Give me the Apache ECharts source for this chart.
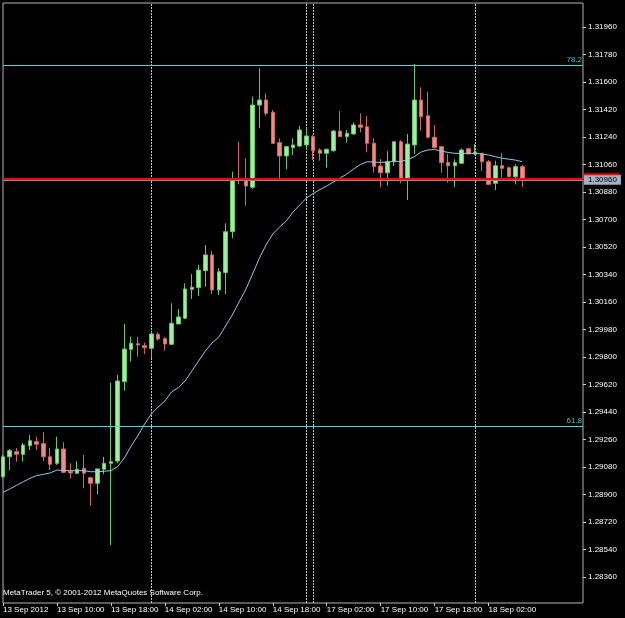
<!DOCTYPE html>
<html>
<head>
<meta charset="utf-8">
<script src="https://cdn.jsdelivr.net/npm/echarts@6/dist/echarts.min.js"></script>
<style>
  html, body { margin: 0; padding: 0; background: #000; }
  #main { width: 625px; height: 618px; }
</style>
</head>
<body>
<div id="main"></div>
<script>
// EURUSD H1, 13 Sep 2012 02:00 - 18 Sep 2012 07:00
const days = [['13 Sep', 2, 23], ['14 Sep', 0, 22], ['16 Sep', 23, 23], ['17 Sep', 0, 23], ['18 Sep', 0, 7]];
const firstLabel = '13 Sep 2012';

const opens = [
  1.29016, 1.29147, 1.29180, 1.29163, 1.29219, 1.29246, 1.29233, 1.29147, 1.29104, 1.29198,
  1.29052, 1.29039, 1.29071, 1.29010, 1.28973, 1.29065, 1.29104, 1.29119, 1.29638, 1.29850,
  1.29887, 1.29874, 1.29857, 1.29949, 1.29920, 1.29883, 1.30016, 1.30053, 1.30243, 1.30254,
  1.30365, 1.30468, 1.30239, 1.30352, 1.30620, 1.30960, 1.30959, 1.30911, 1.31449, 1.31482,
  1.31402, 1.31203, 1.31116, 1.31170, 1.31181, 1.31188, 1.31242, 1.31155, 1.31133, 1.31150,
  1.31279, 1.31242, 1.31260, 1.31319, 1.31307, 1.31199, 1.31050, 1.31006, 1.31078, 1.31209,
  1.30970, 1.31188, 1.31482, 1.31379, 1.31238, 1.31177, 1.31074, 1.31052, 1.31068, 1.31163,
  1.31129, 1.31133, 1.31078, 1.30937, 1.31052, 1.31039, 1.30980, 1.31046
];
const closes = [
  1.29147, 1.29187, 1.29163, 1.29224, 1.29252, 1.29229, 1.29147, 1.29098, 1.29198, 1.29045,
  1.29041, 1.29065, 1.29039, 1.28973, 1.29067, 1.29104, 1.29115, 1.29643, 1.29852, 1.29890,
  1.29879, 1.29861, 1.29951, 1.29918, 1.29885, 1.30021, 1.30062, 1.30245, 1.30256, 1.30369,
  1.30468, 1.30239, 1.30358, 1.30620, 1.30959, 1.30957, 1.30919, 1.31449, 1.31482, 1.31395,
  1.31199, 1.31116, 1.31177, 1.31188, 1.31286, 1.31247, 1.31150, 1.31133, 1.31160, 1.31279,
  1.31242, 1.31264, 1.31319, 1.31304, 1.31199, 1.31046, 1.31006, 1.31078, 1.31209, 1.30970,
  1.31194, 1.31482, 1.31373, 1.31238, 1.31170, 1.31072, 1.31052, 1.31072, 1.31155, 1.31129,
  1.31140, 1.31078, 1.30930, 1.31052, 1.31035, 1.30980, 1.31046, 1.30960
];
const lows = [
  1.29008, 1.29060, 1.29115, 1.29115, 1.29191, 1.29191, 1.29119, 1.29060, 1.29093, 1.29039,
  1.29006, 1.29034, 1.28941, 1.28827, 1.28901, 1.29032, 1.28569, 1.29104, 1.29579, 1.29769,
  1.29802, 1.29820, 1.29792, 1.29907, 1.29841, 1.29879, 1.30016, 1.30049, 1.30180, 1.30199,
  1.30260, 1.30210, 1.30206, 1.30212, 1.30577, 1.30930, 1.30790, 1.30900, 1.31297, 1.31379,
  1.31194, 1.30970, 1.31029, 1.31122, 1.31173, 1.31155, 1.31089, 1.31085, 1.31039, 1.31144,
  1.31242, 1.31203, 1.31253, 1.31271, 1.31140, 1.31006, 1.30911, 1.30921, 1.31050, 1.30937,
  1.30828, 1.31129, 1.31281, 1.31231, 1.31166, 1.31006, 1.30941, 1.30911, 1.31063, 1.31129,
  1.31122, 1.31017, 1.30926, 1.30893, 1.30974, 1.30976, 1.30930, 1.30911
];
const highs = [
  1.29159, 1.29198, 1.29204, 1.29237, 1.29291, 1.29278, 1.29307, 1.29206, 1.29278, 1.29242,
  1.29104, 1.29119, 1.29159, 1.29016, 1.29071, 1.29147, 1.29632, 1.29682, 1.30016, 1.29933,
  1.29933, 1.29894, 1.29966, 1.29962, 1.29929, 1.30151, 1.30114, 1.30282, 1.30343, 1.30402,
  1.30533, 1.30496, 1.30381, 1.30675, 1.31013, 1.31209, 1.31101, 1.31504, 1.31690, 1.31526,
  1.31417, 1.31231, 1.31183, 1.31231, 1.31312, 1.31297, 1.31253, 1.31166, 1.31161, 1.31286,
  1.31410, 1.31286, 1.31336, 1.31395, 1.31377, 1.31231, 1.31096, 1.31148, 1.31212, 1.31220,
  1.31260, 1.31718, 1.31565, 1.31537, 1.31319, 1.31181, 1.31129, 1.31094, 1.31166, 1.31170,
  1.31194, 1.31137, 1.31089, 1.31085, 1.31137, 1.31046, 1.31061, 1.31057
];
// moving average
const maValues = [
  1.28913, 1.28936, 1.28960, 1.28983, 1.29006, 1.29024, 1.29032, 1.29041, 1.29060, 1.29058,
  1.29056, 1.29056, 1.29056, 1.29049, 1.29049, 1.29052, 1.29056, 1.29082, 1.29139, 1.29217,
  1.29285, 1.29362, 1.29427, 1.29473, 1.29512, 1.29571, 1.29600, 1.29643, 1.29708, 1.29774,
  1.29839, 1.29892, 1.29931, 1.30003, 1.30075, 1.30160, 1.30242, 1.30343, 1.30445, 1.30533,
  1.30605, 1.30651, 1.30690, 1.30749, 1.30795, 1.30841, 1.30870, 1.30896, 1.30919, 1.30946,
  1.30972, 1.30998, 1.31031, 1.31060, 1.31078, 1.31076, 1.31074, 1.31076, 1.31081, 1.31080,
  1.31091, 1.31112, 1.31142, 1.31155, 1.31158, 1.31148, 1.31139, 1.31133, 1.31133, 1.31133,
  1.31133, 1.31129, 1.31122, 1.31111, 1.31101, 1.31095, 1.31089, 1.31078
];
const priceTicks = [
  1.28360, 1.28540, 1.28720, 1.28900, 1.29080, 1.29260, 1.29440, 1.29620, 1.29800, 1.29980,
  1.30160, 1.30340, 1.30520, 1.30700, 1.30880, 1.31060, 1.31240, 1.31420, 1.31600, 1.31780, 1.31960
];
const fibLevels = [[1.31711, '78.2'], [1.29348, '61.8']];
const redLevel = 1.30970;
const bidLevel = 1.30960;
const separatorIdx = [22, 45, 46, 70];
const emptyBars = 9;

let categories = [];
days.forEach(d => {
  for (let h = d[1]; h <= d[2]; h++) {
    categories.push(d[0] + ' ' + (h < 10 ? '0' : '') + h + ':00');
  }
});
const nBars = categories.length;
let axisCats = categories.slice();
for (let i = 0; i < emptyBars; i++) axisCats.push('');

const candles = opens.map((o, i) => [o, closes[i], lows[i], highs[i]]);
const showIdx = (i) => i % 8 === 0 && i < nBars;

let myChart = echarts.init(document.getElementById('main'), null, {renderer: 'canvas'});
const font = 'Liberation Sans';
var option = {
  backgroundColor: '#000',
  animation: false,
  title: {
    text: 'MetaTrader 5, © 2001-2012 MetaQuotes Software Corp.',
    left: 3, top: 589, padding: 0,
    textStyle: {color: '#ffffff', fontSize: 8, fontWeight: 'normal', fontFamily: font}
  },
  grid: {
    left: 2, right: 42, top: 3, bottom: 15,
    show: true, borderColor: '#b4b4b4', borderWidth: 1
  },
  xAxis: {
    type: 'category',
    data: axisCats,
    boundaryGap: false,
    axisLine: {show: false},
    axisTick: {show: true, interval: showIdx, length: 3, lineStyle: {color: '#d0d0d0'}},
    axisLabel: {
      interval: showIdx,
      align: 'left',
      margin: 3,
      color: '#ffffff',
      fontSize: 8,
      fontFamily: font,
      formatter: (v, i) => i === 0 ? firstLabel : v
    },
    splitLine: {show: false}
  },
  yAxis: {
    type: 'value',
    position: 'right',
    min: 1.281898,
    max: 1.321171,
    axisLine: {show: false},
    axisTick: {show: true, length: 3, customValues: priceTicks, lineStyle: {color: '#d0d0d0'}},
    axisLabel: {
      customValues: priceTicks,
      margin: 5,
      color: '#ffffff',
      fontSize: 8,
      fontFamily: font,
      formatter: v => v.toFixed(5)
    },
    splitLine: {show: false}
  },
  series: [
    {
      name: 'EURUSD',
      type: 'candlestick',
      data: candles,
      z: 2,
      barWidth: 4,
      clip: true,
      itemStyle: {
        color: '#9cf09c',
        color0: '#f08a8a',
        borderColor: '#6cc46c',
        borderColor0: '#cc6868',
        borderWidth: 1
      },
      // period separators, behind the candles
      markLine: {
        z: 1,
        silent: true,
        symbol: 'none',
        label: {show: false},
        lineStyle: {color: '#c8c8c8', type: [2, 1], width: 1},
        data: separatorIdx.map(i => ({xAxis: categories[i]}))
      }
    },
    {
      name: 'MA',
      type: 'line',
      data: maValues,
      z: 3,
      symbol: 'none',
      lineStyle: {color: '#8ccbea', width: 1},
      markLine: {
        z: 5,
        precision: 5,
        silent: true,
        symbol: 'none',
        data: fibLevels.map(f => ({
          yAxis: f[0],
          lineStyle: {color: '#40d8d8', type: 'solid', width: 1},
          label: {
            show: true, position: 'insideEndTop', formatter: f[1],
            color: '#36c4c4', fontSize: 8, fontFamily: font, distance: [1, 1]
          }
        })).concat([
          {
            yAxis: bidLevel,
            lineStyle: {color: '#8a8a8a', type: 'solid', width: 1},
            label: {
              show: true, position: 'end', distance: 1,
              formatter: bidLevel.toFixed(5),
              backgroundColor: '#a0b2c4', color: '#000000',
              fontSize: 8, fontFamily: font, padding: [1, 4, 1, 4]
            }
          },
          {
            yAxis: redLevel,
            lineStyle: {color: '#ff0000', type: 'solid', width: 2},
            label: {
              show: true, position: 'end', distance: 1,
              formatter: '{a| }',
              offset: [0, -4],
              rich: {a: {width: 35, height: 2, fontSize: 1, lineHeight: 2, backgroundColor: '#ff0000'}}
            }
          }
        ])
      }
    }
  ]
};
myChart.setOption(option, true);
</script>
</body>
</html>
